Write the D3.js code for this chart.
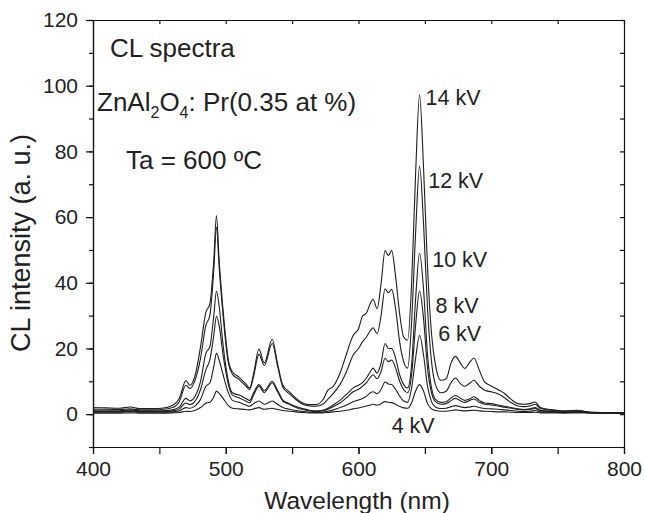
<!DOCTYPE html>
<html>
<head>
<meta charset="utf-8">
<script src="https://cdn.jsdelivr.net/npm/d3@7"></script>
<style>
  body { margin: 0; background: #fff; }
  svg { display: block; font-family: "Liberation Sans", Arial, Helvetica, sans-serif; }
  .axis path, .axis line { stroke: #111; stroke-width: 1.2px; }
  .axis text { font-size: 21px; fill: #222; }
</style>
</head>
<body>
<svg id="chart" width="645" height="513"></svg>
<script>
// wavelength grid (nm) shared by every spectrum
const wavelength = [400, 410, 420, 428, 435, 445, 452, 460, 465, 470, 473, 477, 481, 485, 488, 491, 493, 495, 498,
  502, 505, 510, 515, 518, 521, 525, 529, 535, 539, 543, 548, 553, 558, 563, 568, 573, 577, 581, 586, 591, 596,
  600, 603, 606, 609, 611, 614, 617, 620, 622.5, 625, 628, 631, 634, 637, 640, 643, 646, 649, 652, 655, 658,
  662, 666, 670, 673, 677, 680, 684, 687, 691, 695, 700, 705, 710, 715, 720, 725, 729, 733, 737, 745, 755,
  765, 775, 790, 800];

const kv14 = [2.0, 1.9, 1.8, 2.2, 1.7, 1.7, 1.8, 2.7, 4.8, 10.2, 8.8, 11.9, 20.5, 31, 33.5, 47, 60.5, 47, 31.6,
  16.4, 12.9, 11.3, 9.3, 8.0, 12.4, 19.8, 15.6, 22.8, 15.4, 8.8, 6.8, 4.8, 3.4, 2.9, 2.9, 4.3, 7.3, 8.5, 12.4,
  18.4, 24.0, 26.0, 29.8, 30.8, 33.8, 35.0, 32.1, 39.7, 49.8, 48.3, 49.8, 41.7, 30.6, 23.5, 22.5, 39.7, 73,
  97.2, 75, 44.8, 24.5, 14.9, 10.3, 10.8, 15.9, 17.6, 15.4, 13.9, 15.9, 17.1, 13.4, 9.8, 8.6, 7.5, 6.3, 4.5,
  3.2, 3.0, 3.2, 3.7, 2.0, 1.4, 1.0, 1.2, 0.6, 0.5, 0.5];

const kv12 = [1.5, 1.5, 1.4, 1.6, 1.3, 1.3, 1.4, 2.0, 3.8, 8.8, 7.8, 10.5, 17, 27, 30, 44, 57, 45, 30,
  15.5, 12.2, 10.6, 8.6, 7.5, 11.5, 18.2, 14.8, 21.5, 14.8, 8.2, 6.2, 4.4, 3.0, 2.5, 2.4, 3.0, 4.6, 6.3, 9.0,
  13, 18, 20, 22, 23.5, 25.5, 26.3, 24.5, 30, 38.2, 37, 38, 32, 22, 16, 14, 28, 55,
  75.5, 58, 32, 16, 9, 6.5, 7, 9.8, 11, 9.2, 8.5, 9.5, 10.3, 8.5, 7.3, 6.8, 6.2, 5.0, 3.5,
  2.5, 2.3, 2.5, 3.0, 1.7, 1.2, 0.9, 1.0, 0.6, 0.5, 0.5];

const kv10 = [1.0, 1.0, 1.0, 1.3, 1.0, 1.0, 1.0, 1.3, 2.2, 4.8, 4.0, 5.5, 10, 18.5, 20.5, 30, 37.5, 33, 21,
  10, 6.5, 5.8, 4.8, 4.2, 6.5, 9.0, 7.2, 10, 7.3, 4.3, 3.2, 2.3, 1.7, 1.2, 1.0, 1.2, 1.8, 2.8, 4.2,
  6.0, 8.0, 8.8, 9.6, 11.0, 13, 14, 12.5, 15.5, 21.5, 20, 20, 17, 12, 9, 8, 15, 35,
  49, 38, 18, 8, 4.5, 3.6, 3.8, 5.0, 5.7, 4.8, 4.2, 4.7, 5.3, 4.2, 3.4, 3.2, 2.8, 2.4, 2.0,
  1.6, 1.4, 1.6, 2.0, 1.2, 0.9, 0.7, 0.8, 0.5, 0.4, 0.4];

const kv8 = [0.8, 0.8, 0.8, 1.0, 0.8, 0.8, 0.8, 1.0, 1.6, 3.4, 2.9, 4.0, 7.5, 13.5, 16.5, 24, 29.8, 27, 18,
  9, 5.8, 5.0, 4.0, 3.5, 5.8, 8.5, 6.6, 9.5, 6.8, 4.0, 3.0, 2.0, 1.4, 1.0, 0.8, 1.0, 1.5, 2.3, 3.4,
  5.0, 6.8, 7.6, 8.5, 9.6, 11.3, 12, 10.8, 13, 17, 16, 16.5, 14, 10, 7.5, 6.5, 12, 27,
  37.5, 29, 14, 6.5, 3.8, 3.0, 3.2, 4.2, 4.8, 4.0, 3.6, 4.2, 4.6, 3.6, 3.0, 2.8, 2.5, 2.1, 1.8,
  1.4, 1.3, 1.4, 1.7, 1.0, 0.8, 0.6, 0.7, 0.5, 0.4, 0.4];

const kv6 = [0.6, 0.6, 0.6, 0.8, 0.6, 0.6, 0.6, 0.7, 1.0, 2.0, 1.8, 2.5, 4.5, 8.5, 9.5, 14.5, 18.5, 16.5, 12,
  6.5, 4.2, 3.6, 2.8, 2.4, 3.2, 4.0, 3.0, 4.0, 3.0, 2.0, 1.5, 1.1, 0.8, 0.6, 0.5, 0.6, 0.9, 1.3, 2.0,
  2.8, 3.8, 4.3, 4.8, 5.5, 6.5, 6.8, 6.2, 7.5, 9.8, 9.2, 9.0, 7.5, 5.5, 4.0, 3.6, 8, 17,
  24, 18, 8.5, 3.8, 2.2, 1.7, 1.8, 2.3, 2.6, 2.2, 2.0, 2.2, 2.4, 2.0, 1.7, 1.6, 1.5, 1.3, 1.1,
  0.9, 0.8, 0.9, 1.1, 0.7, 0.6, 0.5, 0.6, 0.4, 0.3, 0.3];

const kv4 = [0.3, 0.3, 0.3, 0.4, 0.3, 0.3, 0.3, 0.4, 0.5, 0.9, 0.8, 1.2, 2.0, 3.3, 3.6, 5.2, 7.0, 6.3, 4.8,
  2.6, 1.8, 1.6, 1.4, 1.3, 1.6, 2.0, 1.5, 1.8, 1.4, 1.1, 0.9, 0.7, 0.5, 0.4, 0.4, 0.4, 0.5, 0.7, 0.9,
  1.2, 1.6, 1.9, 2.2, 2.5, 2.8, 3.0, 2.7, 3.2, 3.8, 3.6, 3.5, 3.0, 2.3, 1.9, 1.8, 3.5, 7,
  9, 7, 3.2, 1.6, 1.1, 0.9, 0.9, 1.1, 1.3, 1.1, 1.0, 1.1, 1.2, 1.0, 0.9, 0.8, 0.7, 0.7, 0.6,
  0.5, 0.5, 0.5, 0.6, 0.4, 0.4, 0.3, 0.4, 0.3, 0.3, 0.3];

const spectra = [kv4, kv6, kv8, kv10, kv12, kv14];

// labels next to the 646 nm peak: [text, wavelength, intensity]
const seriesLabels = [
  ["14 kV", 650.5, 96.5],
  ["12 kV", 652.5, 71],
  ["10 kV", 655.5, 47],
  ["8 kV", 658, 33],
  ["6 kV", 660, 24.5],
  ["4 kV", 625, -3.3]
];

const xMajor = [400, 500, 600, 700, 800];
const xAll = d3.range(400, 801, 50);
const yMajor = [0, 20, 40, 60, 80, 100, 120];
const yAll = d3.range(-10, 121, 10);

const svg = d3.select("#chart");
const plotLeft = 93, plotRight = 624, plotTop = 20, plotBottom = 447;

const x = d3.scaleLinear().domain([400, 800]).range([plotLeft, plotRight]);
const y = d3.scaleLinear().domain([-10, 120]).range([plotBottom, plotTop]);

// spectra
const line = d3.line()
  .x((d, i) => x(wavelength[i]))
  .y(d => y(d))
  .curve(d3.curveMonotoneX);

svg.append("g")
  .selectAll("path")
  .data(spectra)
  .enter()
  .append("path")
  .attr("d", line)
  .attr("fill", "none")
  .attr("stroke", "#1e1e1e")
  .attr("stroke-width", 1.1);

// axes
svg.append("g").attr("class", "axis")
  .attr("transform", "translate(" + plotLeft + ",0)")
  .call(d3.axisLeft(y).tickValues(yAll).tickSize(4).tickFormat("").tickSizeOuter(0));
svg.append("g").attr("class", "axis")
  .attr("transform", "translate(" + plotLeft + ",0)")
  .call(d3.axisLeft(y).tickValues(yMajor).tickSize(7).tickPadding(8).tickSizeOuter(0));

svg.append("g").attr("class", "axis")
  .attr("transform", "translate(" + plotRight + ",0)")
  .call(d3.axisRight(y).tickValues(yAll).tickSize(-4).tickFormat("").tickSizeOuter(0));

svg.append("g").attr("class", "axis")
  .attr("transform", "translate(0," + plotTop + ")")
  .call(d3.axisTop(x).tickValues(xAll).tickSize(-4).tickFormat("").tickSizeOuter(0));

svg.append("g").attr("class", "axis")
  .attr("transform", "translate(0," + plotBottom + ")")
  .call(d3.axisBottom(x).tickValues(xAll).tickSize(7).tickFormat("").tickSizeOuter(0));
svg.append("g").attr("class", "axis")
  .attr("transform", "translate(0," + plotBottom + ")")
  .call(d3.axisBottom(x).tickValues(xMajor).tickSize(7).tickPadding(7).tickSizeOuter(0));

svg.selectAll(".axis .domain").attr("stroke-width", 1.4);

// axis titles
svg.append("text")
  .attr("x", 357)
  .attr("y", 509)
  .attr("text-anchor", "middle")
  .attr("font-size", 24.5)
  .attr("fill", "#222")
  .text("Wavelength (nm)");

svg.append("text")
  .attr("transform", "translate(30,243) rotate(-90)")
  .attr("text-anchor", "middle")
  .attr("font-size", 27)
  .attr("fill", "#222")
  .text("CL intensity (a. u.)");

// annotations
const note = svg.append("g").attr("font-size", 26).attr("fill", "#222");
note.append("text").attr("x", 110).attr("y", 57).text("CL spectra");
const formula = note.append("text").attr("x", 97).attr("y", 111);
formula.append("tspan").text("ZnAl");
formula.append("tspan").attr("font-size", 16).attr("dy", 7).text("2");
formula.append("tspan").attr("dy", -7).text("O");
formula.append("tspan").attr("font-size", 16).attr("dy", 7).text("4");
formula.append("tspan").attr("dy", -7).text(": Pr(0.35 at %)");
note.append("text").attr("x", 126).attr("y", 169).text("Ta = 600 ºC");

svg.append("g")
  .selectAll("text")
  .data(seriesLabels)
  .enter()
  .append("text")
  .attr("x", d => x(d[1]))
  .attr("y", d => y(d[2]))
  .attr("dy", "0.35em")
  .attr("font-size", 21.5)
  .attr("fill", "#222")
  .text(d => d[0]);
</script>
</body>
</html>
